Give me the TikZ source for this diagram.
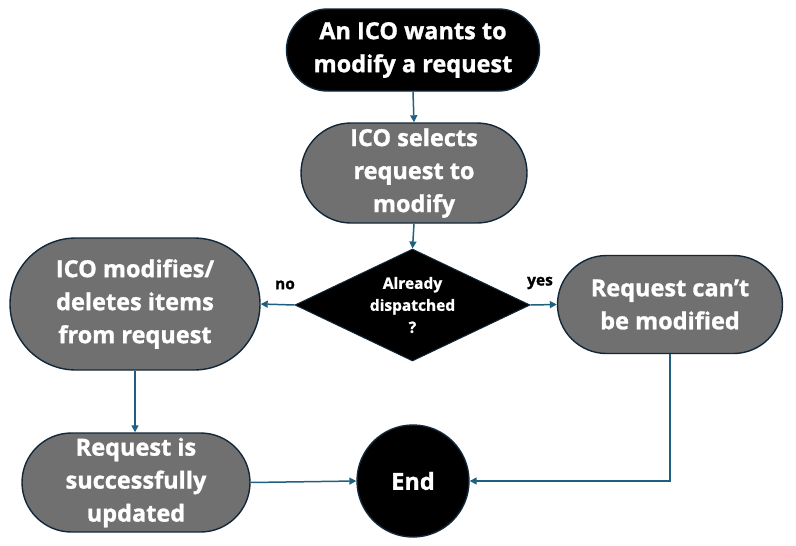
\documentclass[tikz,border=0pt]{standalone}
\usepackage{fontspec}
\setmainfont{Open Sans}[BoldFeatures={FakeBold=1.2}]
\usetikzlibrary{shapes.geometric,arrows.meta}
\definecolor{boxgray}{HTML}{707070}
\definecolor{edgecol}{HTML}{12283A}
\definecolor{arrcol}{HTML}{1F5F80}
\tikzset{
  x=1pt,y=-1pt,
  pill/.style={draw=edgecol,line width=1.4pt,fill=boxgray,text=white,font=\fontsize{23.5}{33}\selectfont\bfseries,align=center,inner sep=0pt},
  darkpill/.style={pill,fill=black},
  conn/.style={draw=arrcol,line width=1.5pt,-{Triangle[length=7pt,width=7pt]}},
  lab/.style={font=\fontsize{15.5}{18}\selectfont\bfseries,text=black}
}
\begin{document}
\begin{tikzpicture}
\useasboundingbox (0,0) rectangle (796,546);
\node[darkpill,minimum width=253pt,minimum height=82pt,rounded corners=41pt] (start) at (413,50) {An ICO wants to\\modify a request};
\node[pill,minimum width=226pt,minimum height=100pt,rounded corners=50pt] (sel) at (414,173) {ICO selects\\request to\\modify};
\node[diamond,draw=edgecol,line width=1pt,fill=black,text=white,font=\fontsize{15.5}{22}\selectfont\bfseries,align=center,inner sep=0pt,minimum width=235pt,minimum height=112pt,aspect=2.1] (dec) at (412.5,305) {Already\\dispatched\\?};
\node[pill,minimum width=250pt,minimum height=132pt,rounded corners=66pt] (mod) at (135,304) {ICO modifies/\\deletes items\\from request};
\node[pill,minimum width=225pt,minimum height=98pt,rounded corners=49pt] (cant) at (670,304.5) {Request can’t\\be modified};
\node[pill,minimum width=228pt,minimum height=99pt,rounded corners=49.5pt] (upd) at (136,482.5) {Request is\\successfully\\updated};
\node[circle,draw=edgecol,line width=1.4pt,fill=black,text=white,font=\fontsize{23.5}{28}\selectfont\bfseries,minimum size=112pt,inner sep=0pt] (end) at (413,481) {End};
\draw[conn] (start.south) -- (sel.north);
\draw[conn] (sel.south) -- (dec.north);
\draw[conn] (dec.west) -- (mod.east);
\draw[conn] (dec.east) -- (cant.west);
\draw[conn] (mod.south) -- (mod.south |- upd.north);
\draw[conn] (upd.east) -- (end.west);
\draw[conn] (cant.south) |- (end.east);
\node[lab] (no) at (285,285) {no};
\node[lab] (yes) at (540,283) {yes};
\end{tikzpicture}
\end{document}
